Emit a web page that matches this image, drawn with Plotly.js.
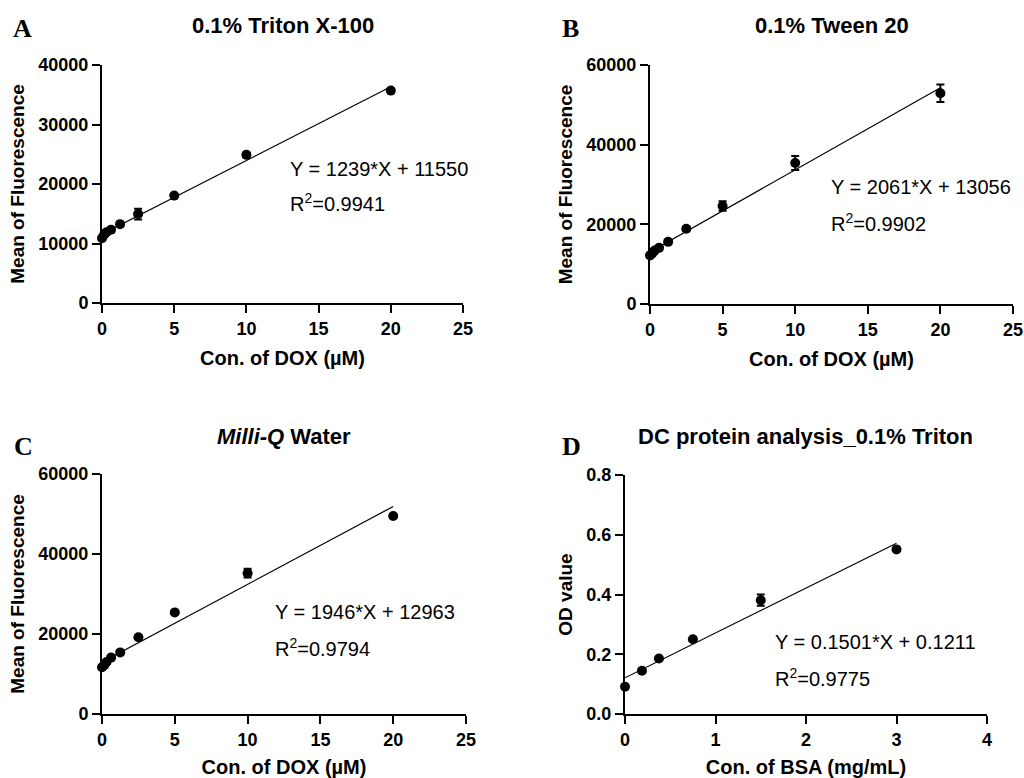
<!DOCTYPE html>
<html>
<head>
<meta charset="utf-8">
<script src="https://cdn.plot.ly/plotly-3.0.1.min.js"></script>
<style>html,body{margin:0;padding:0;background:#fff;}#chart{width:1024px;height:778px;}</style>
</head>
<body>
<div id="chart"></div>
<script>
// ---- data ----
const concDOX = [0, 0.15625, 0.3125, 0.625, 1.25, 2.5, 5, 10, 20];
const tritonMean = [10900, 11500, 11900, 12300, 13250, 14950, 18050, 24900, 35700];
const tritonSD = [300, 300, 300, 400, 300, 900, 300, 300, 300];
const tweenMean = [12200, 12700, 13400, 14100, 15600, 18900, 24600, 35400, 52900];
const tweenSD = [300, 300, 300, 400, 400, 500, 1200, 1750, 2200];
const waterMean = [11700, 12200, 13000, 14100, 15400, 19200, 25400, 35200, 49500];
const waterSD = [300, 300, 300, 400, 300, 400, 400, 1100, 500];
const concBSA = [0, 0.1875, 0.375, 0.75, 1.5, 3];
const odMean = [0.091, 0.145, 0.186, 0.250, 0.381, 0.551];
const odSD = [0.005, 0.005, 0.005, 0.005, 0.019, 0.005];

const panelTitles = ["0.1% Triton X-100", "0.1% Tween 20", "<i>Milli-Q</i> Water", "DC protein analysis_0.1% Triton"];
const panelLetters = ["A", "B", "C", "D"];
const fitSlope = [1239, 2061, 1946, 0.1501];
const fitIntercept = [11550, 13056, 12963, 0.1211];
const fitXMax = [20, 20, 20, 3];
const fitEquations = ["Y = 1239*X + 11550", "Y = 2061*X + 13056", "Y = 1946*X + 12963", "Y = 0.1501*X + 0.1211"];
const fitR2 = ["R<sup>2</sup>=0.9941", "R<sup>2</sup>=0.9902", "R<sup>2</sup>=0.9794", "R<sup>2</sup>=0.9775"];
const xTitles = ["Con. of DOX (µM)", "Con. of DOX (µM)", "Con. of DOX (µM)", "Con. of BSA (mg/mL)"];
const yTitles = ["Mean of Fluorescence", "Mean of Fluorescence", "Mean of Fluorescence", "OD value"];

// ---- layout geometry (pixels) ----
const W = 1024, H = 778;
const px = v => v / W;
const py = v => 1 - v / H;
const boxes = [
  {l: 102, r: 463, t: 65, b: 303},
  {l: 650, r: 1013, t: 65, b: 304},
  {l: 102, r: 466, t: 474, b: 714},
  {l: 625, r: 987, t: 475, b: 714}
];
const xRanges = [[0, 25], [0, 25], [0, 25], [0, 4]];
const yRanges = [[0, 40000], [0, 60000], [0, 60000], [0, 0.8]];
const xDticks = [5, 5, 5, 1];
const yDticks = [10000, 20000, 20000, 0.2];
const yFormats = ["d", "d", "d", ".1f"];
const titlePos = [[283, 26], [832, 26], [284, 436], [805, 436]];
const letterPos = [[22, 28], [570, 28], [23, 447], [571, 447]];
const eqPos = [[288, 169, 203], [829, 187, 222], [273, 612, 647], [773, 642, 677]];

const FONT = "Liberation Sans, Arial, Helvetica, sans-serif";
const series = [
  {x: concDOX, y: tritonMean, e: tritonSD},
  {x: concDOX, y: tweenMean, e: tweenSD},
  {x: concDOX, y: waterMean, e: waterSD},
  {x: concBSA, y: odMean, e: odSD}
];

const traces = [];
const layout = {
  width: W, height: H,
  margin: {l: 0, r: 0, t: 0, b: 0},
  paper_bgcolor: "#fff", plot_bgcolor: "#fff",
  showlegend: false,
  font: {family: FONT, size: 16, color: "#000"},
  annotations: []
};

series.forEach((s, i) => {
  const n = i === 0 ? "" : String(i + 1);
  const xa = "x" + n, ya = "y" + n;
  // fitted line from the stated equation
  const fx = [0, fitXMax[i]];
  const fy = fx.map(v => fitSlope[i] * v + fitIntercept[i]);
  traces.push({
    type: "scatter", mode: "lines", x: fx, y: fy, xaxis: xa, yaxis: ya,
    line: {color: "#000", width: 1.2}, hoverinfo: "skip", cliponaxis: false
  });
  traces.push({
    type: "scatter", mode: "markers", x: s.x, y: s.y, xaxis: xa, yaxis: ya,
    marker: {color: "#000", size: 10},
    error_y: {type: "data", array: s.e, visible: true, color: "#000", thickness: 2, width: 4},
    cliponaxis: false
  });
  const b = boxes[i];
  const axCommon = {
    showline: true, linecolor: "#000", linewidth: 2,
    ticks: "outside", ticklen: 8, tickwidth: 2, tickcolor: "#000",
    showgrid: false, zeroline: false, fixedrange: true,
    tickfont: {family: FONT, size: 18, weight: "bold", color: "#000"}
  };
  layout["xaxis" + n] = Object.assign({}, axCommon, {
    domain: [px(b.l), px(b.r)], anchor: ya, range: xRanges[i],
    tick0: 0, dtick: xDticks[i],
    title: {text: xTitles[i], font: {family: FONT, size: 20, weight: "bold", color: "#000"}, standoff: 13}
  });
  layout["yaxis" + n] = Object.assign({}, axCommon, {
    domain: [py(b.b), py(b.t)], anchor: xa, range: yRanges[i],
    tick0: 0, dtick: yDticks[i], tickformat: yFormats[i],
    title: {text: yTitles[i], font: {family: FONT, size: 19, weight: "bold", color: "#000"}, standoff: 9}
  });
  layout.annotations.push({
    xref: "paper", yref: "paper", x: px(titlePos[i][0]), y: py(titlePos[i][1]),
    xanchor: "center", yanchor: "middle", showarrow: false, text: panelTitles[i],
    font: {family: FONT, size: 22, weight: "bold", color: "#000"}
  });
  layout.annotations.push({
    xref: "paper", yref: "paper", x: px(letterPos[i][0]), y: py(letterPos[i][1]),
    xanchor: "center", yanchor: "middle", showarrow: false, text: panelLetters[i],
    font: {family: "Liberation Serif, Times New Roman, serif", size: 26, weight: "bold", color: "#000"}
  });
  layout.annotations.push({
    xref: "paper", yref: "paper", x: px(eqPos[i][0]), y: py(eqPos[i][1]),
    xanchor: "left", yanchor: "middle", showarrow: false, text: fitEquations[i],
    font: {family: FONT, size: 20, color: "#000"}
  });
  layout.annotations.push({
    xref: "paper", yref: "paper", x: px(eqPos[i][0]), y: py(eqPos[i][2]),
    xanchor: "left", yanchor: "middle", showarrow: false, text: fitR2[i],
    font: {family: FONT, size: 20, color: "#000"}
  });
});

Plotly.newPlot("chart", traces, layout, {staticPlot: true, displayModeBar: false});
</script>
</body>
</html>
